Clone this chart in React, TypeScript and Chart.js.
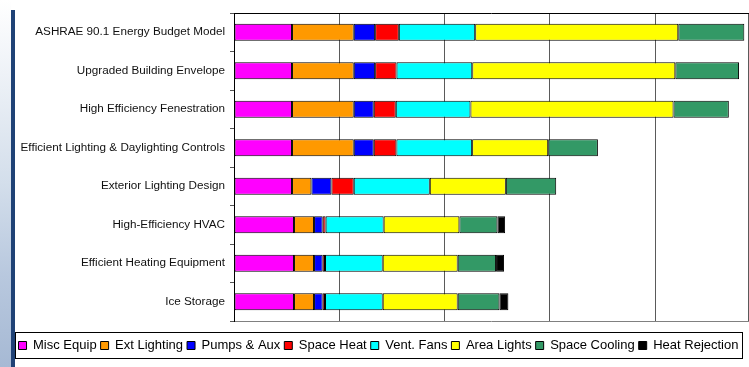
import React, { useEffect, useRef } from "react";
import { Chart, registerables } from "chart.js";

Chart.register(...registerables);

const categories = [
  "ASHRAE 90.1 Energy Budget Model",
  "Upgraded Building Envelope",
  "High Efficiency Fenestration",
  "Efficient Lighting & Daylighting Controls",
  "Exterior Lighting Design",
  "High-Efficiency HVAC",
  "Efficient Heating Equipment",
  "Ice Storage",
];

const seriesNames = [
  "Misc Equip",
  "Ext Lighting",
  "Pumps & Aux",
  "Space Heat",
  "Vent. Fans",
  "Area Lights",
  "Space Cooling",
  "Heat Rejection",
];

const miscEquip = [55.1, 55.1, 55.1, 55.1, 55.1, 57.0, 57.0, 57.0];
const extLighting = [58.6, 58.6, 58.6, 58.6, 18.4, 19.0, 19.0, 19.0];
const pumpsAux = [20.3, 20.3, 19.0, 19.0, 19.0, 8.2, 8.2, 8.2];
const spaceHeat = [22.5, 20.3, 20.9, 21.5, 21.2, 2.8, 2.2, 2.2];
const ventFans = [72.5, 71.9, 70.9, 71.9, 72.2, 55.1, 54.8, 54.8];
const areaLights = [192.8, 192.8, 192.8, 72.2, 72.2, 71.9, 71.2, 71.2];
const spaceCooling = [62.7, 60.5, 52.5, 47.2, 47.8, 36.1, 36.4, 39.6];
const heatRejection = [0, 0, 0, 0, 0, 7.3, 7.6, 8.5];

const seriesValues = [
  miscEquip,
  extLighting,
  pumpsAux,
  spaceHeat,
  ventFans,
  areaLights,
  spaceCooling,
  heatRejection,
];

const seriesColors = [
  "#FF00FF",
  "#FF9900",
  "#0000FF",
  "#FF0000",
  "#00FFFF",
  "#FFFF00",
  "#339966",
  "#000000",
];

const axisMax = 488;
const gridStep = 100;

const FONT = "'Liberation Sans', Arial, sans-serif";

const decorPlugin = {
  id: "decor",
  afterDraw(chart: any) {
    const { ctx, legend } = chart;
    const boxes = legend && legend.legendHitBoxes;
    if (!boxes || !boxes.length) return;
    let l = Infinity, r = -Infinity, t = Infinity, b = -Infinity;
    for (const h of boxes) {
      l = Math.min(l, h.left);
      r = Math.max(r, h.left + h.width);
      t = Math.min(t, h.top);
      b = Math.max(b, h.top + h.height);
    }
    ctx.save();
    ctx.strokeStyle = "#000";
    ctx.lineWidth = 1;
    ctx.strokeRect(Math.round(l - 4) + 0.5, Math.round(t - 7) + 0.5, Math.round(r - l + 7), Math.round(b - t + 13));
    ctx.restore();
  },
};

export default function App() {
  const canvasRef = useRef<HTMLCanvasElement | null>(null);

  useEffect(() => {
    if (!canvasRef.current) return;
    const chart = new Chart(canvasRef.current, {
      type: "bar",
      data: {
        labels: categories,
        datasets: seriesNames.map((name, i) => ({
          label: name,
          data: seriesValues[i],
          backgroundColor: seriesColors[i],
          borderColor: "#000000",
          borderWidth: 1,
          borderSkipped: false,
          barPercentage: 0.445,
          categoryPercentage: 1,
        })),
      },
      options: {
        indexAxis: "y",
        responsive: false,
        animation: false,
        devicePixelRatio: 1,
        layout: { padding: { top: 13, left: 9, right: 1, bottom: 5 } },
        scales: {
          x: {
            type: "linear",
            position: "top",
            stacked: true,
            min: 0,
            max: axisMax,
            ticks: { display: false, stepSize: gridStep },
            grid: { color: "#5a5a5a", lineWidth: 1, drawTicks: false },
            border: { display: true, color: "#000", width: 1 },
            afterFit: (s: any) => {
              s.height = 0;
            },
          },
          x2: {
            type: "linear",
            position: "bottom",
            min: 0,
            max: axisMax,
            ticks: { display: false },
            grid: { drawOnChartArea: false, drawTicks: false },
            border: { display: true, color: "#808080", width: 1 },
            afterFit: (s: any) => {
              s.height = 14;
            },
          },
          y: {
            type: "category",
            stacked: true,
            offset: true,
            ticks: {
              color: "#111",
              font: { family: FONT, size: 11.7 },
              padding: 5,
            },
            grid: {
              offset: true,
              drawOnChartArea: false,
              drawTicks: true,
              tickLength: 4,
              color: "#555",
            },
            border: { display: true, color: "#000", width: 1 },
            afterFit: (s: any) => {
              s.width = 225;
            },
          },
        },
        plugins: {
          legend: {
            position: "bottom",
            labels: {
              boxWidth: 8,
              boxHeight: 8,
              padding: 4,
              color: "#000",
              font: { family: FONT, size: 13 },
            },
          },
          tooltip: { enabled: false },
        },
      },
      plugins: [decorPlugin],
    } as any);
    return () => chart.destroy();
  }, []);

  return (
    <div style={{ position: "fixed", left: 0, top: 0, width: 749, height: 367, background: "#fff", overflow: "hidden" }}>
      <div
        style={{
          position: "absolute",
          left: 0,
          top: 0,
          width: 11,
          height: 367,
          background: "linear-gradient(to bottom, #ffffff 0%, #eef2f7 20%, #d3deeb 50%, #b8c8de 75%, #a6b9d4 100%)",
        }}
      />
      <div style={{ position: "absolute", left: 11, top: 10, width: 4, height: 357, background: "#1f4276" }} />
      <canvas ref={canvasRef} width={749} height={367} style={{ position: "absolute", left: 0, top: 0 }} />
    </div>
  );
}
